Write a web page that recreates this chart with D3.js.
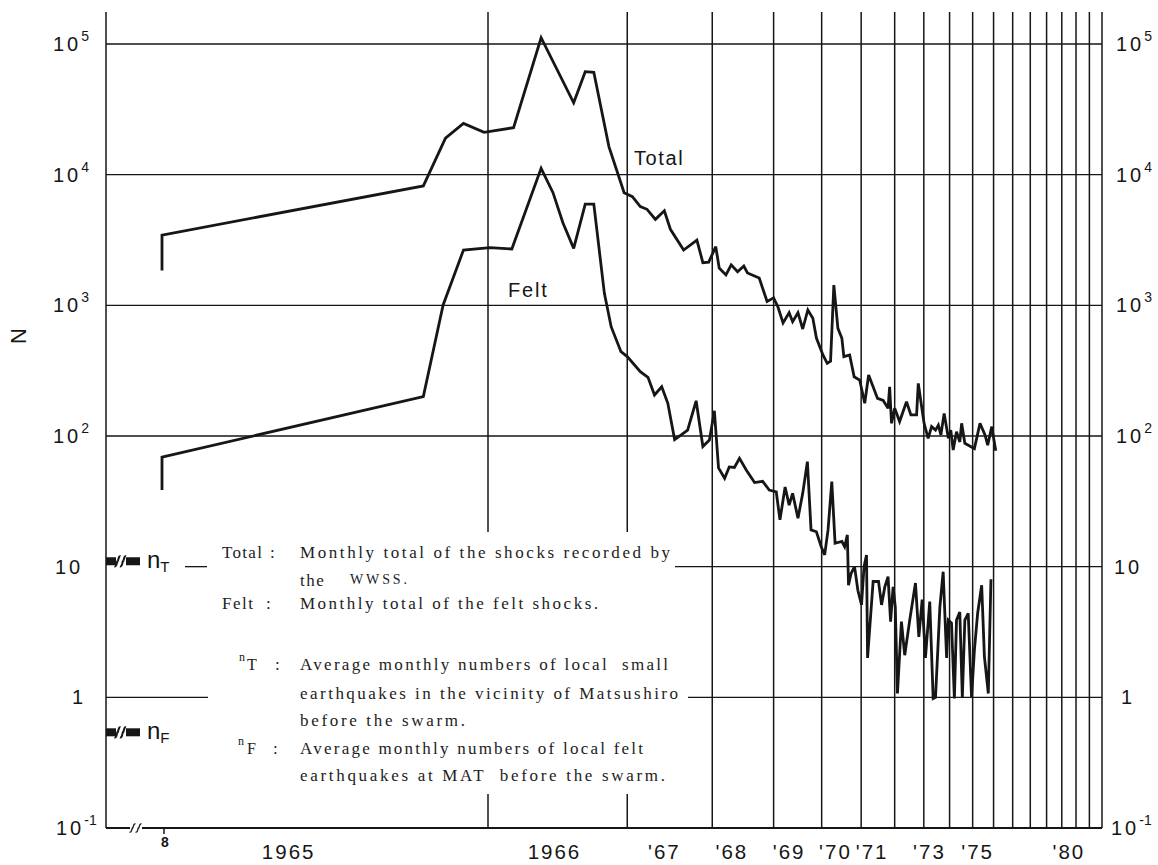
<!DOCTYPE html>
<html><head><meta charset="utf-8">
<script src="https://cdn.jsdelivr.net/npm/d3@7"></script>
<style>
html,body{margin:0;padding:0;background:#fff;}
svg{display:block;}
text{white-space:pre;}
</style></head><body>
<svg id="chart" width="1158" height="865"></svg>
<script>
// ---------------- DATA ----------------
// Monthly total of shocks (WWSS): time in decimal years, count per month
const totalTime = [1965.58,1965.58,1965.71,1965.80,1965.88,1965.98,1966.14,1966.31,1966.54,1966.63,1966.70,1966.83,1966.97,
 1967.05,1967.13,1967.20,1967.29,1967.39,1967.46,1967.62,1967.79,1967.87,1967.95,1968.05,1968.10,1968.20,1968.28,1968.38,
 1968.48,1968.54,1968.74,1968.88,1969.00,1969.08,1969.18,1969.30,1969.37,1969.48,1969.58,1969.69,1969.80,1969.88,1970.03,
 1970.13,1970.21,1970.29,1970.39,1970.49,1970.54,1970.69,1970.81,1970.96,1971.10,1971.21,1971.47,1971.64,1971.79,1971.84,
 1971.90,1972.00,1972.16,1972.39,1972.54,1972.74,1972.80,1972.92,1973.01,1973.16,1973.29,1973.44,1973.55,1973.65,1973.78,
 1973.95,1974.05,1974.15,1974.29,1974.43,1974.51,1974.65,1975.08,1975.34,1975.58,1975.71,1975.91,1976.11];
const totalCount = [1850,3450,8200,19000,24700,21100,22900,111700,35500,61400,60700,16400,7280,
 6780,5690,5430,4550,5300,3820,2650,3160,2120,2140,2810,1930,1710,2040,1810,
 2000,1770,1620,1070,1140,976,733,878,750,878,659,921,796,562,417,
 360,374,1430,667,559,405,417,284,268,178,293,194,187,163,238,
 125,163,129,183,145,145,253,168,125,96,118,111,121,102,149,
 96,111,78,108,90,125,88,80,125,102,85,118,77];

// Monthly total of felt shocks
const feltTime = [1965.58,1965.58,1965.71,1965.79,1965.88,1966.01,1966.13,1966.31,1966.39,1966.46,1966.54,1966.63,1966.70,
 1966.79,1966.85,1966.94,1967.00,1967.13,1967.21,1967.28,1967.36,1967.43,1967.51,1967.59,1967.67,1967.78,1967.87,1967.96,
 1968.03,1968.09,1968.18,1968.25,1968.33,1968.41,1968.52,1968.66,1968.80,1968.92,1969.05,1969.12,1969.22,1969.30,1969.37,
 1969.48,1969.58,1969.68,1969.76,1969.88,1969.99,1970.07,1970.15,1970.24,1970.32,1970.49,1970.56,1970.63,1970.66,1970.73,
 1970.82,1970.91,1971.01,1971.08,1971.15,1971.18,1971.34,1971.50,1971.59,1971.69,1971.79,1971.87,1971.95,1972.02,1972.09,
 1972.22,1972.33,1972.50,1972.70,1972.82,1972.94,1973.06,1973.22,1973.35,1973.44,1973.61,1973.74,1973.88,1973.95,1974.08,
 1974.20,1974.29,1974.43,1974.54,1974.65,1974.80,1974.95,1975.08,1975.23,1975.42,1975.55,1975.74,1975.87];
const feltCount = [38.6,69,200,1006,2650,2760,2700,11190,7280,4290,2730,5960,5960,
 1236,686,442,405,311,281,206,238,178,94,102,111,186,83,93,
 156,57,47.5,58,57.5,67.5,55,44,45,38.6,37.3,22.8,40.7,29.6,36.4,
 23.5,36.4,63.6,19.1,18.5,14.2,12.3,19.1,44.7,15.1,15.6,14.2,17.5,7.2,8.9,
 10,6.6,5.1,10,12.3,2.0,7.7,7.7,5.1,7.0,8.4,3.8,7.0,4.9,1.07,
 3.8,2.1,3.9,7.5,2.9,5.6,2.0,5.4,0.98,1.0,4.9,9.15,2.0,3.9,3.7,
 0.98,3.9,4.5,1.0,3.9,4.4,1.0,2.3,4.4,7.2,2.05,1.07,8.0];

// Pre-swarm reference levels
const nTLevel = 11;
const nFLevel = 0.54;

// Year boundary lines and axis labels
const yearLines = [1966,1967,1968,1969,1970,1971,1972,1973,1974,1975,1976,1977,1978,1979,1980,1981,1982,1983];
const yearLabels = ["1965","1966","'67","'68","'69","'70","'71","'73","'75","'80"];
const yearLabelAt = [1965.643,1966.40,1967.39,1968.29,1969.30,1970.33,1971.31,1973.21,1975.23,1980.49];
const monthLabel = "8";
const yTicks = [0.1,1,10,100,1000,10000,100000];

// ---------------- LAYOUT ----------------
const svg = d3.select("#chart");
const L = 106, R = 1102, TOP = 12, B = 828;
const T0 = 1964.85, T_START = 1965.58, T_JOIN = 1965.71;
const xLog = d3.scaleLog().domain([1966 - T0, 1983 - T0]).range([488, R]);
const xEarly = d3.scaleLinear().domain([T_START, T_JOIN]).range([162, xLog(T_JOIN - T0)]);
const x = t => t < T_JOIN ? xEarly(t) : xLog(t - T0);
const y = d3.scaleLog().domain([0.1, 1e5]).range([B, 44]);

const INK = "#161616";
const sans = "'Liberation Sans', Arial, Helvetica, sans-serif";
const serif = "'Liberation Serif', 'Times New Roman', serif";

const g = svg.append("g");

// horizontal grid lines
[100,1000,10000,100000].forEach(v => {
  g.append("line").attr("x1", L).attr("x2", R).attr("y1", y(v)).attr("y2", y(v))
   .attr("stroke", INK).attr("stroke-width", 1.3);
});
// partial lines at 10 and 1 (interrupted by the legend)
[[10,185,207],[10,675,R],[1,L,208],[1,688,R]].forEach(([v,a,b]) => {
  g.append("line").attr("x1", a).attr("x2", b).attr("y1", y(v)).attr("y2", y(v))
   .attr("stroke", INK).attr("stroke-width", 1.3);
});

// vertical year lines (interrupted by legend for the first two)
const gapTop = 532, gapBottom = 794, legendRight = 690;
yearLines.forEach(yr => {
  const xx = x(yr);
  if (xx < legendRight) {
    g.append("line").attr("x1", xx).attr("x2", xx).attr("y1", TOP).attr("y2", gapTop)
      .attr("stroke", INK).attr("stroke-width", 1.5);
    g.append("line").attr("x1", xx).attr("x2", xx).attr("y1", gapBottom).attr("y2", B)
      .attr("stroke", INK).attr("stroke-width", 1.5);
  } else {
    g.append("line").attr("x1", xx).attr("x2", xx).attr("y1", TOP).attr("y2", B)
      .attr("stroke", INK).attr("stroke-width", 1.5);
  }
});

// left axis and bottom axis
g.append("line").attr("x1", L).attr("x2", L).attr("y1", TOP).attr("y2", B).attr("stroke", INK).attr("stroke-width", 1.5);
g.append("line").attr("x1", L).attr("x2", R).attr("y1", B).attr("y2", B).attr("stroke", INK).attr("stroke-width", 1.8);

// axis break on bottom axis
g.append("rect").attr("x", 130).attr("y", B - 3).attr("width", 12).attr("height", 6).attr("fill", "#fff");
[132.5, 138.5].forEach(cx => {
  g.append("path").attr("d", `M${cx-3},${B+4} C${cx-0.5},${B+5} ${cx-0.5},${B-1} ${cx},${B} S${cx+1},${B-5} ${cx+3},${B-4}`)
   .attr("fill", "none").attr("stroke", INK).attr("stroke-width", 1.3);
});
// month tick "8"
g.append("line").attr("x1", x(T_START)+2).attr("x2", x(T_START)+2).attr("y1", B).attr("y2", B + 6)
 .attr("stroke", INK).attr("stroke-width", 1.5);
g.append("text").attr("x", x(T_START)+3).attr("y", B + 19).attr("text-anchor", "middle")
 .attr("font-family", sans).attr("font-size", 14).attr("font-weight", "bold").attr("fill", INK).text(monthLabel);

// year labels
yearLabels.forEach((lab, i) => {
  g.append("text").attr("x", x(yearLabelAt[i])).attr("y", 859).attr("text-anchor", "middle")
   .attr("font-family", sans).attr("font-size", 20.5).attr("letter-spacing", 2).attr("fill", INK).text(lab);
});

// y labels, both sides
function yLabel(v, side) {
  const e = Math.round(Math.log10(v));
  const yy = y(v) + 7;
  let xx;
  if (side === "left") xx = (e === 1) ? 55 : (e === 0 ? 72 : (e < 0 ? 56 : 53));
  else xx = (e === 1) ? 1114 : (e === 0 ? 1121 : (e < 0 ? 1111 : 1116));
  const t = g.append("text").attr("x", xx).attr("y", yy).attr("font-family", sans)
    .attr("font-size", 20).attr("fill", INK);
  if (e === 0) { t.append("tspan").text("1"); return; }
  t.append("tspan").attr("letter-spacing", 3).text("10");
  if (e !== 1) t.append("tspan").attr("font-size", 14).attr("dy", -10).text(String(e));
}
yTicks.forEach(v => { yLabel(v, "left"); yLabel(v, "right"); });

// N axis title
g.append("text").attr("transform", "translate(26,336) rotate(-90)").attr("text-anchor", "middle")
 .attr("font-family", sans).attr("font-size", 22).attr("fill", INK).text("N");

// ---------------- SERIES ----------------
const line = d3.line().x(d => x(d[0])).y(d => y(d[1]));
const totalData = d3.zip(totalTime, totalCount);
const feltData = d3.zip(feltTime, feltCount);
[totalData, feltData].forEach(data => {
  g.append("path").datum(data).attr("d", line).attr("fill", "none")
   .attr("stroke", INK).attr("stroke-width", 2.8).attr("stroke-linejoin", "miter").attr("stroke-miterlimit", 3);
});
g.append("text").attr("x", 634).attr("y", 165).attr("font-family", sans).attr("font-size", 20)
 .attr("letter-spacing", 1.6).attr("fill", INK).text("Total");
g.append("text").attr("x", 508).attr("y", 297).attr("font-family", sans).attr("font-size", 20)
 .attr("letter-spacing", 1.8).attr("fill", INK).text("Felt");

// ---------------- nT / nF markers ----------------
function marker(v, sub) {
  const yy = y(v);
  g.append("line").attr("x1", L).attr("x2", 116).attr("y1", yy).attr("y2", yy).attr("stroke", INK).attr("stroke-width", 8);
  g.append("line").attr("x1", 126).attr("x2", 140).attr("y1", yy).attr("y2", yy).attr("stroke", INK).attr("stroke-width", 8);
  [117.5, 123].forEach(cx => {
    g.append("path").attr("d", `M${cx-3},${yy+5} C${cx-0.5},${yy+6} ${cx-0.5},${yy-1} ${cx},${yy} S${cx+1},${yy-6} ${cx+3},${yy-5}`)
     .attr("fill", "none").attr("stroke", INK).attr("stroke-width", 2);
  });
  const t = g.append("text").attr("x", 147).attr("y", yy + 7).attr("font-family", sans).attr("font-size", 24).attr("fill", INK);
  t.append("tspan").text("n");
  t.append("tspan").attr("font-size", 15).attr("dy", 4).text(sub);
}
marker(nTLevel, "T");
marker(nFLevel, "F");

// ---------------- LEGEND TEXT ----------------
const lf = { "font-family": serif, "font-size": 17, "fill": "#222" };
function txt(xx, yy, s, opts = {}) {
  const t = g.append("text").attr("x", xx).attr("y", yy);
  Object.entries(Object.assign({}, lf, opts)).forEach(([k, v]) => t.attr(k, v));
  t.text(s);
  return t;
}
function body(yy, s, w) { txt(300, yy, s, { textLength: w, lengthAdjust: "spacing" }); }

txt(222, 558, "Total", { "letter-spacing": 1.3 }); txt(270, 558, ":");
body(558, "Monthly total of the shocks recorded by", 370);
txt(300, 586, "the", { "letter-spacing": 1.5 });
txt(350, 584, "WWSS.", { "font-size": 14, textLength: 57, lengthAdjust: "spacing" });
txt(222, 609, "Felt", { "letter-spacing": 1.5 }); txt(266, 609, ":");
body(609, "Monthly total of the felt shocks.", 298);

txt(239, 661, "n", { "font-size": 12 }); txt(247, 670, "T", { "font-size": 16 }); txt(275, 670, ":");
body(670, "Average monthly numbers of local  small", 368);
body(699, "earthquakes in the vicinity of Matsushiro", 378);
body(726, "before the swarm.", 165);
txt(238, 745, "n", { "font-size": 12 }); txt(247, 754, "F", { "font-size": 16 }); txt(273, 754, ":");
body(754, "Average monthly numbers of local felt", 343);
body(781, "earthquakes at MAT  before the swarm.", 365);
</script>
</body></html>
